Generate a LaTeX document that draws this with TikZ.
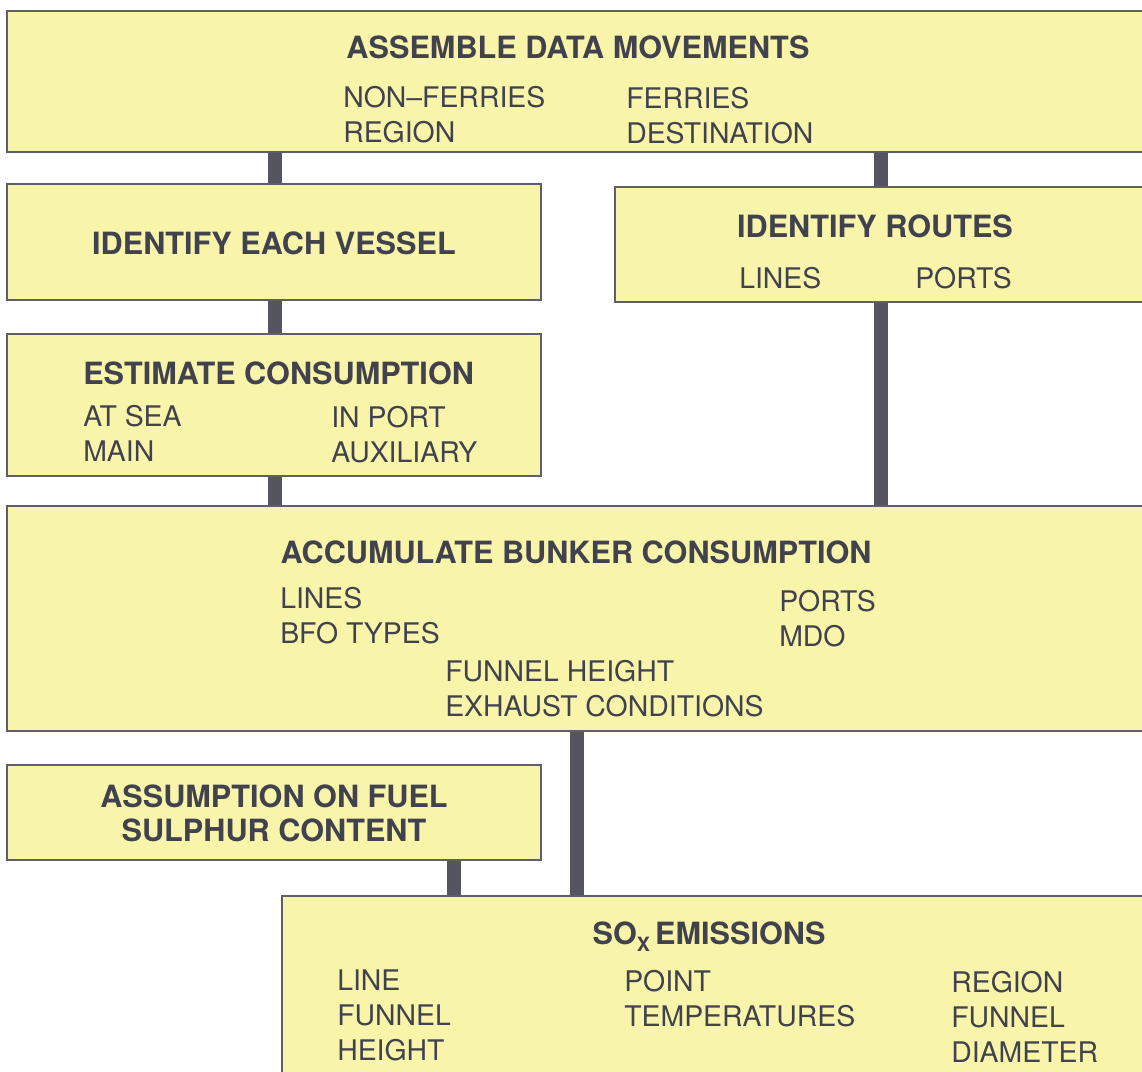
\documentclass[tikz,border=0pt]{standalone}
\usepackage{fontspec}
\setmainfont{TeX Gyre Heros}
\usetikzlibrary{fit}

\definecolor{boxfill}{RGB}{248,245,170}
\definecolor{boxline}{RGB}{95,95,105}
\definecolor{inkgray}{RGB}{66,66,78}
\definecolor{barfill}{RGB}{85,85,97}

\begin{document}
\begin{tikzpicture}[
    x=0.025cm, y=-0.025cm,
    every node/.style={inner sep=0pt, text=inkgray},
    box/.style={draw=boxline, line width=0.8pt, fill=boxfill, fit={#1}},
    title/.style={font=\fontsize{21.8}{24.2}\selectfont\bfseries, anchor=north},
    item/.style={font=\fontsize{20.2}{24.9}\selectfont, anchor=north west, align=left},
    link/.style={draw=barfill, line width=10pt},
  ]
  \useasboundingbox (0,0) rectangle (1142,1071);
  \clip (0,0) rectangle (1142,1071);

  % boxes
  \node[box={(7,11) (1160,152)}]    (assemble)    {};
  \node[box={(7,184) (541,300)}]    (vessel)      {};
  \node[box={(615,187) (1160,302)}] (routes)      {};
  \node[box={(7,334) (541,476)}]    (consumption) {};
  \node[box={(7,506) (1160,731)}]   (accumulate)  {};
  \node[box={(7,765) (541,860)}]    (sulphur)     {};
  \node[box={(282,896) (1160,1090)}] (sox)        {};

  % where the bars run
  \coordinate (left-bus)    at (275,0);
  \coordinate (right-bus)   at (881,0);
  \coordinate (mid-bus)     at (577,0);
  \coordinate (sulphur-bus) at (454,0);

  \path[link]
  (assemble.south -| left-bus)     -- (vessel.north -| left-bus)
  (vessel.south -| left-bus)       -- (consumption.north -| left-bus)
  (consumption.south -| left-bus)  -- (accumulate.north -| left-bus)
  (assemble.south -| right-bus)    -- (routes.north -| right-bus)
  (routes.south -| right-bus)      -- (accumulate.north -| right-bus)
  (accumulate.south -| mid-bus)    -- (sox.north -| mid-bus)
  (sulphur.south -| sulphur-bus)   -- (sox.north -| sulphur-bus);

  % texts
  \node[title] (assemble-title) at (578,36) {ASSEMBLE DATA MOVEMENTS};
  \node[item]  (assemble-left)  at (343,86) {NON--FERRIES\\REGION};
  \node[item]  (assemble-right) at (626,87) {FERRIES\\DESTINATION};

  \node[title] (vessel-title) at (274,231) {IDENTIFY EACH VESSEL};

  \node[title] (routes-title) at (875,215) {IDENTIFY ROUTES};
  \node[item]  (routes-lines) at (739,267) {LINES};
  \node[item]  (routes-ports) at (915,267) {PORTS};

  \node[title, anchor=north west] (consumption-title) at (83,361) {ESTIMATE CONSUMPTION};
  \node[item] (consumption-sea)  at (83,405)  {AT SEA\\MAIN};
  \node[item] (consumption-port) at (331,406) {IN PORT\\AUXILIARY};

  \node[title] (accumulate-title)  at (576,540) {ACCUMULATE BUNKER CONSUMPTION};
  \node[item]  (accumulate-lines)  at (280,587) {LINES\\BFO TYPES};
  \node[item]  (accumulate-ports)  at (779,590) {PORTS\\MDO};
  \node[item]  (accumulate-funnel) at (445,660) {FUNNEL HEIGHT\\EXHAUST CONDITIONS};

  \node[title, align=center] (sulphur-title) at (274,784) {ASSUMPTION ON FUEL\\SULPHUR CONTENT};

  \node[title] (sox-title) at (709,921)
    {SO\raisebox{-0.25em}{\fontsize{14}{14}\selectfont X}\,EMISSIONS};
  \node[item] (sox-line)   at (337,969) {LINE\\FUNNEL\\HEIGHT};
  \node[item] (sox-point)  at (624,970) {POINT\\TEMPERATURES};
  \node[item] (sox-region) at (951,971) {REGION\\FUNNEL\\DIAMETER};
\end{tikzpicture}
\end{document}
